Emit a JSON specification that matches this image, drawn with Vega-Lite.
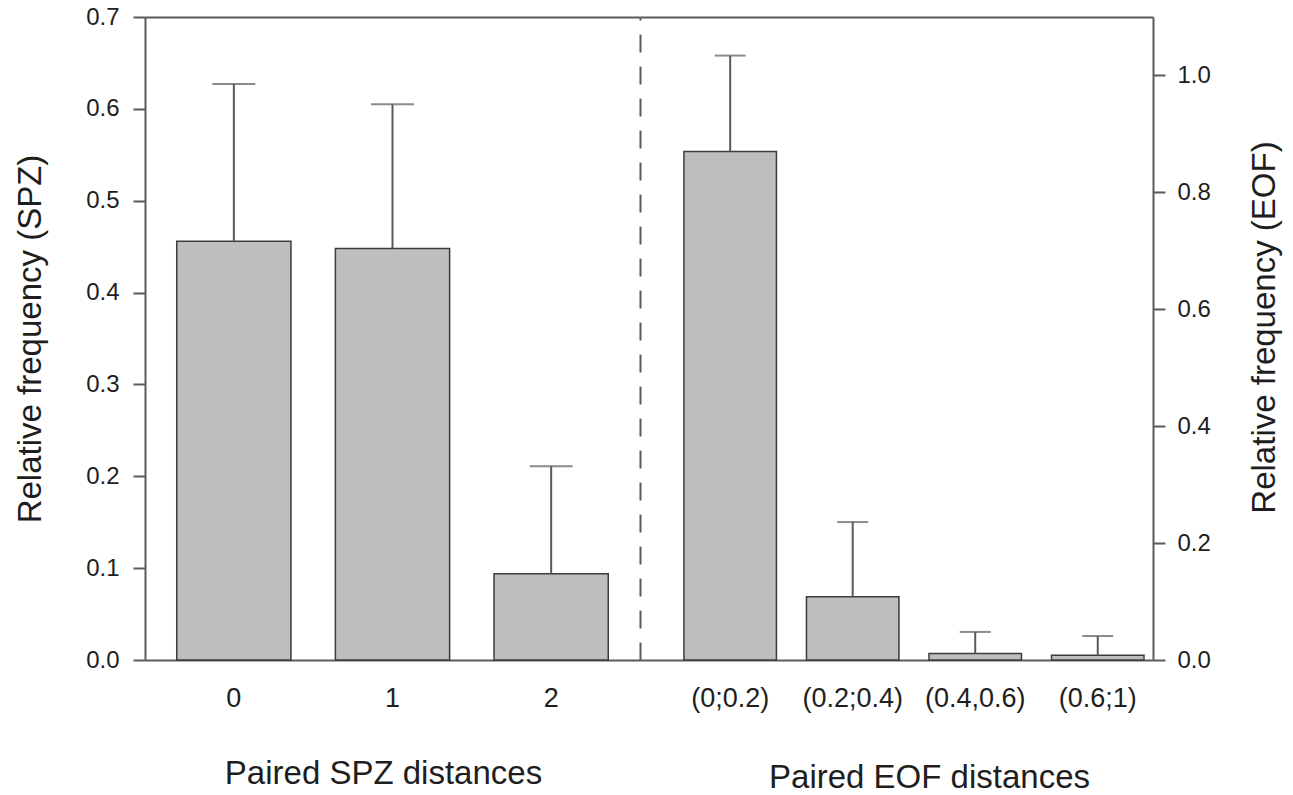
{
  "$schema": "https://vega.github.io/schema/vega-lite/v6.json",
  "background": "white",
  "padding": {"left": 14, "top": 5, "right": 5, "bottom": 5},
  "spacing": 0,
  "bounds": "flush",
  "datasets": {
    "spz": [
      {"label": "0", "value": 0.456, "upper": 0.627},
      {"label": "1", "value": 0.448, "upper": 0.605},
      {"label": "2", "value": 0.094, "upper": 0.211}
    ],
    "eof": [
      {"label": "(0;0.2)", "value": 0.870, "upper": 1.034},
      {"label": "(0.2;0.4)", "value": 0.108, "upper": 0.236},
      {"label": "(0.4,0.6)", "value": 0.011, "upper": 0.048},
      {"label": "(0.6;1)", "value": 0.008, "upper": 0.041}
    ]
  },
  "config": {
    "view": {"stroke": null},
    "font": "Liberation Sans",
    "axis": {
      "grid": false,
      "domainColor": "#5a5a5a",
      "domainWidth": 2,
      "tickColor": "#5a5a5a",
      "tickWidth": 2,
      "labelColor": "#1e1e1e",
      "titleColor": "#1e1e1e",
      "labelFont": "Liberation Sans",
      "titleFont": "Liberation Sans",
      "titleFontWeight": "normal"
    }
  },
  "hconcat": [
    {
      "width": 495,
      "height": 643,
      "data": {"name": "spz"},
      "layer": [
        {
          "mark": {"type": "bar", "fill": "#bebebe", "stroke": "#3c3c3c", "strokeWidth": 1.5},
          "encoding": {
            "x": {
              "field": "label", "type": "nominal", "sort": null,
              "scale": {"paddingInner": 0.28, "paddingOuter": 0.2},
              "axis": {
                "orient": "bottom", "title": "Paired SPZ distances", "labelAngle": 0,
                "ticks": false, "tickSize": 0, "labelFontSize": 27, "labelPadding": 25,
                "titleFontSize": 33, "titlePadding": 46, "titleX": 238
              }
            },
            "y": {
              "field": "value", "type": "quantitative",
              "scale": {"domain": [0, 0.7], "nice": false, "zero": true},
              "axis": {
                "orient": "left", "title": "Relative frequency (SPZ)",
                "values": [0, 0.1, 0.2, 0.3, 0.4, 0.5, 0.6, 0.7], "format": ".1f",
                "tickSize": 12, "labelFontSize": 24, "labelPadding": 14,
                "titleFontSize": 33, "titlePadding": 38
              }
            }
          }
        },
        {
          "mark": {"type": "rule", "stroke": "#5a5a5a", "strokeWidth": 2},
          "encoding": {
            "x": {
              "field": "label", "type": "nominal", "sort": null,
              "axis": {"orient": "top", "labels": false, "ticks": false, "title": null, "domain": true}
            },
            "y": {"field": "value", "type": "quantitative", "axis": null},
            "y2": {"field": "upper"}
          }
        },
        {
          "mark": {"type": "tick", "orient": "horizontal", "size": 43, "thickness": 2, "color": "#5a5a5a"},
          "encoding": {
            "x": {"field": "label", "type": "nominal", "sort": null, "axis": null},
            "y": {"field": "upper", "type": "quantitative", "axis": null}
          }
        }
      ],
      "resolve": {"axis": {"x": "independent", "y": "independent"}}
    },
    {
      "width": 513,
      "height": 643,
      "data": {"name": "eof"},
      "layer": [
        {
          "mark": {"type": "bar", "fill": "#bebebe", "stroke": "#3c3c3c", "strokeWidth": 1.5},
          "encoding": {
            "x": {
              "field": "label", "type": "nominal", "sort": null,
              "scale": {"paddingInner": 0.245, "paddingOuter": 0.216, "align": 0.83},
              "axis": {
                "orient": "bottom", "title": "Paired EOF distances", "labelAngle": 0,
                "ticks": false, "tickSize": 0, "labelFontSize": 27, "labelPadding": 25,
                "titleFontSize": 33, "titlePadding": 50, "titleX": 289
              }
            },
            "y": {
              "field": "value", "type": "quantitative",
              "scale": {"domain": [0, 1.1], "nice": false, "zero": true},
              "axis": {
                "orient": "right", "title": "Relative frequency (EOF)",
                "values": [0, 0.2, 0.4, 0.6, 0.8, 1.0], "format": ".1f",
                "tickSize": 12, "labelFontSize": 24, "labelPadding": 12,
                "titleFontSize": 33, "titlePadding": 38, "titleAngle": 270, "titleBaseline": "top",
                "titleY": 310
              }
            }
          }
        },
        {
          "mark": {"type": "rule", "stroke": "#5a5a5a", "strokeWidth": 2},
          "encoding": {
            "x": {
              "field": "label", "type": "nominal", "sort": null,
              "axis": {"orient": "top", "labels": false, "ticks": false, "title": null, "domain": true}
            },
            "y": {
              "field": "value", "type": "quantitative",
              "axis": {"orient": "left", "labels": false, "ticks": false, "title": null, "domain": true, "domainDash": [18, 14]}
            },
            "y2": {"field": "upper"}
          }
        },
        {
          "mark": {"type": "tick", "orient": "horizontal", "size": 31, "thickness": 2, "color": "#5a5a5a"},
          "encoding": {
            "x": {"field": "label", "type": "nominal", "sort": null, "axis": null},
            "y": {"field": "upper", "type": "quantitative", "axis": null}
          }
        }
      ],
      "resolve": {"axis": {"x": "independent", "y": "independent"}}
    }
  ]
}
